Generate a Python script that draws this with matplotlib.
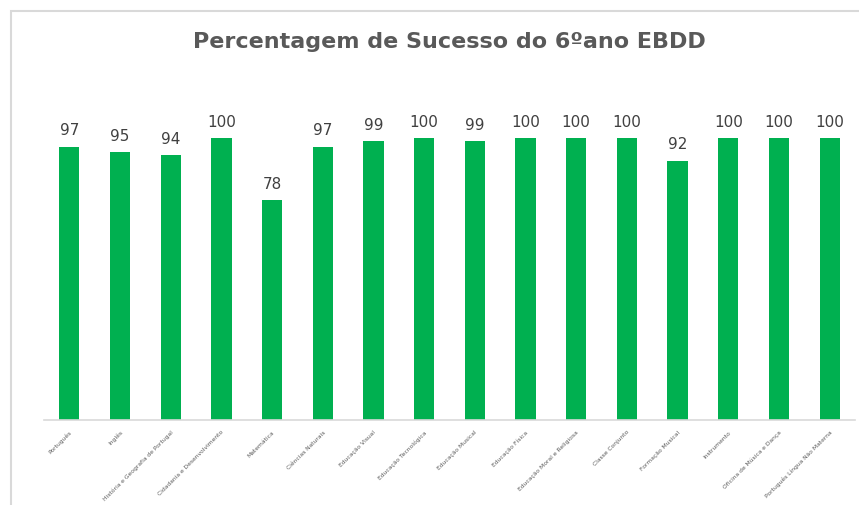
import matplotlib
matplotlib.use("Agg")
import matplotlib.pyplot as plt
from matplotlib.patches import Rectangle

categories = ["Português", "Inglês", "História e Geografia de Portugal",
              "Cidadania e Desenvolvimento", "Matemática", "Ciências Naturais",
              "Educação Visual", "Educação Tecnológica", "Educação Musical",
              "Educação Física", "Educação Moral e Religiosa", "Classe Conjunto",
              "Formação Musical", "Instrumento", "Oficina de Música e Dança",
              "Português Língua Não Materna"]
values = [97, 95, 94, 100, 78, 97, 99, 100, 99, 100, 100, 100, 92, 100, 100, 100]

plt.rcParams['font.family'] = ['DejaVu Sans']

W, H = 859, 505
fig = plt.figure(figsize=(W/100, H/100), dpi=100)
fig.patch.set_facecolor('white')

# outer chart border
fig.add_artist(Rectangle((11/W, -0.1), 2.0, 1 - 11/H + 0.1, transform=fig.transFigure,
                         fill=False, edgecolor='#d9d9d9', linewidth=1.5))

ax = fig.add_axes([44/W, 1 - 420/H, (855-44)/W, (420-82)/H])
x = range(len(categories))
bars = ax.bar(x, values, width=0.4, color='#00B050')
ax.set_ylim(0, 120)
ax.set_xlim(-0.5, len(categories) - 0.5)
for i, v in zip(x, values):
    ax.text(i, v + 3, str(v), ha='center', va='bottom', fontsize=11, color='#404040')

ax.set_xticks(list(x))
ax.set_xticklabels(categories, rotation=45, ha='right', rotation_mode='anchor',
                   fontsize=4.3, color='#595959')
ax.tick_params(axis='x', length=0, pad=7)
ax.set_yticks([])
for s in ['top', 'right', 'left']:
    ax.spines[s].set_visible(False)
ax.spines['bottom'].set_color('#d9d9d9')
ax.spines['bottom'].set_linewidth(1.2)

fig.text(449/W, 1 - 42/H, "Percentagem de Sucesso do 6ºano EBDD", ha='center', va='center',
         fontsize=16, fontweight='bold', color='#595959')

fig.savefig('out.png', dpi=100)
